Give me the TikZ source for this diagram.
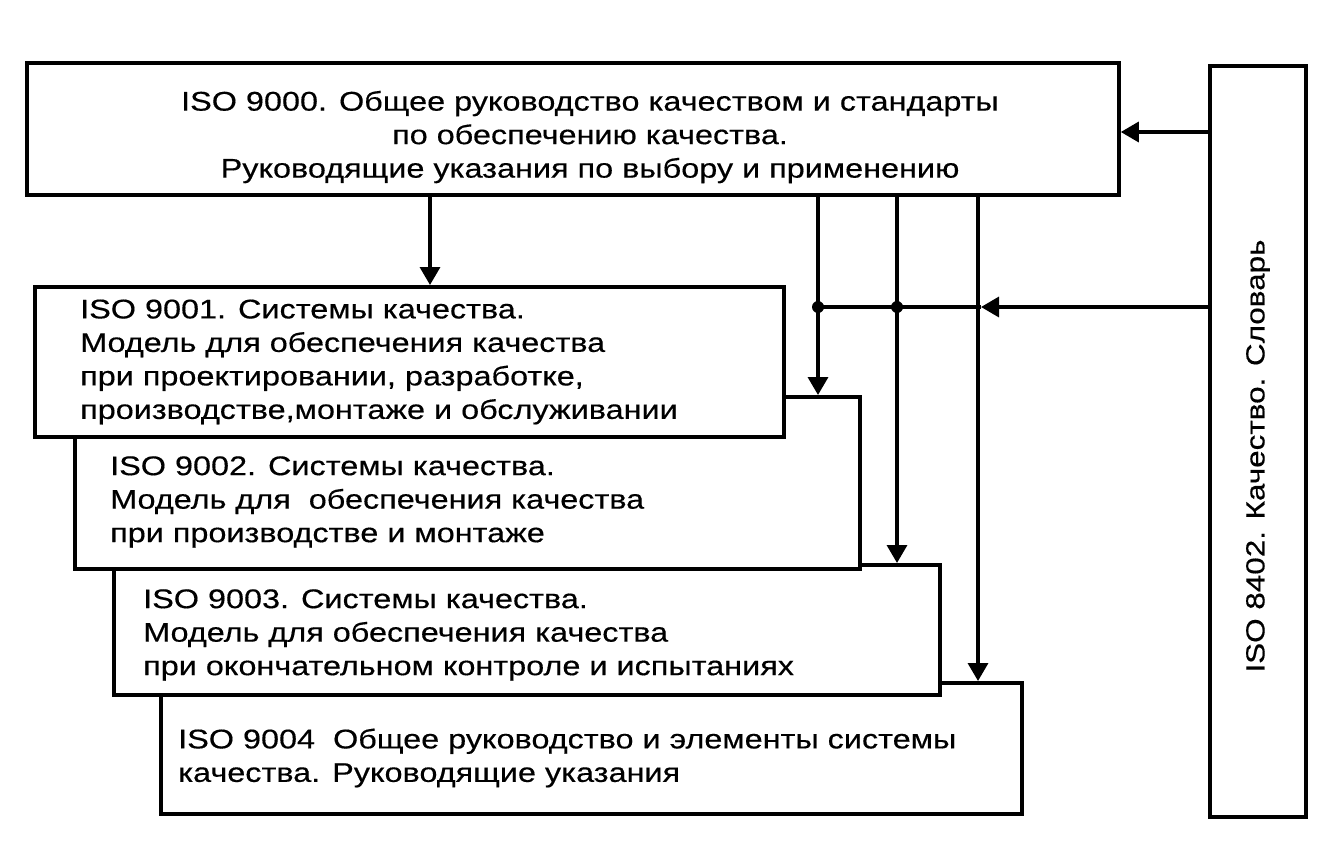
\documentclass[tikz,border=0pt]{standalone}
\usepackage{fontspec}
\setmainfont{Liberation Sans}[FakeStretch=1.2,FakeBold=0.4]
\usetikzlibrary{arrows.meta}
\newcommand\fsz{\fontsize{27}{33.5}\selectfont}
\newcommand\fszr{\fontsize{26.2}{33.5}\selectfont}
\begin{document}
\begin{tikzpicture}[x=1pt,y=-1pt,
  box/.style={draw,line width=3.8pt,fill=white,inner sep=0pt,anchor=north west},
  txt/.style={inner sep=0pt,font=\fsz,align=left},
  arr/.style={line width=3.4pt,-{Triangle[width=20pt,length=18pt]}},
  ln/.style={line width=3.4pt}]
\useasboundingbox[fill=white] (0,0) rectangle (1340,860);
% boxes (back to front)
\node[box,minimum width=861pt,minimum height=131pt] (b4) at (159,681) {};
\node[box,minimum width=826pt,minimum height=130pt] (b3) at (112,563) {};
\node[box,minimum width=785pt,minimum height=172pt] (b2) at (73,395) {};
\node[box,minimum width=749pt,minimum height=150pt] (b1) at (33,285) {};
\node[box,minimum width=1092pt,minimum height=132pt] (b0) at (25,61) {};
\node[box,minimum width=96pt,minimum height=751pt] (rb) at (1208,64) {};
% texts
\node[txt,align=center] (t0) at (590,137) {ISO 9000. Общее руководство качеством и стандарты\\по обеспечению качества.\\Руководящие указания по выбору и применению};
\node[txt,anchor=west] (t1) at (80,362) {ISO 9001. Системы качества.\\Модель для обеспечения качества\\при проектировании, разработке,\\производстве,монтаже и обслуживании};
\node[txt,anchor=west] (t2) at (110,502) {ISO 9002. Системы качества.\\Модель для\ \ обеспечения качества\\при производстве и монтаже};
\node[txt,anchor=west] (t3) at (143,635) {ISO 9003. Системы качества.\\Модель для обеспечения качества\\при окончательном контроле и испытаниях};
\node[txt,anchor=west] (t4) at (178,758) {ISO 9004\ \ Общее руководство и элементы системы\\качества. Руководящие указания};
\node[txt,font=\fszr,rotate=90] (t5) at (1258,456) {ISO 8402. Качество. Словарь};
% connectors
\coordinate (c1) at (430,0);
\coordinate (c2) at (818,0);
\coordinate (c3) at (897,0);
\coordinate (c4) at (978,0);
\coordinate (h) at (0,307);
\coordinate (v) at (0,132);
\coordinate (hm) at (981,307);
\draw[arr] (b0.south -| c1) -- (b1.north -| c1);
\draw[arr] (b0.south -| c2) -- (b2.north -| c2);
\draw[arr] (b0.south -| c3) -- (b3.north -| c3);
\draw[arr] (b0.south -| c4) -- (b4.north -| c4);
\draw[arr] (rb.west |- h) -- (hm);
\draw[ln] (hm) -- (c2 |- h);
\fill (c2 |- h) circle (6pt);
\fill (c3 |- h) circle (6pt);
\draw[arr] (rb.west |- v) -- (b0.east |- v);
\end{tikzpicture}
\end{document}
